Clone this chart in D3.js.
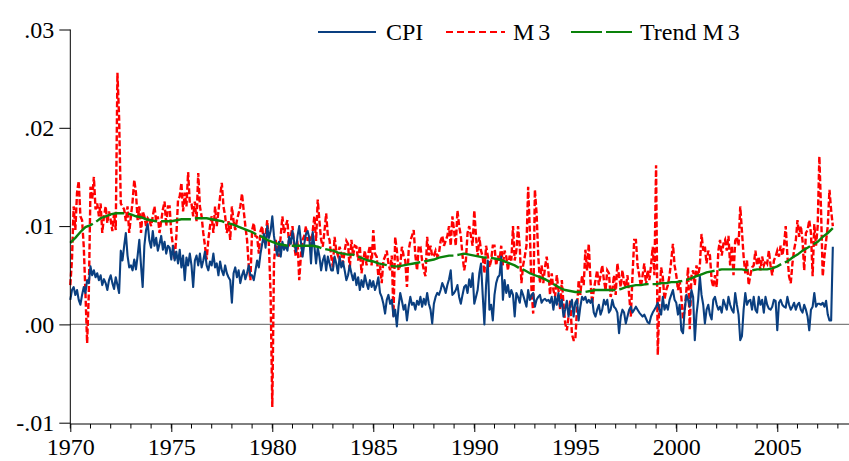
<!DOCTYPE html>
<html>
<head>
<meta charset="utf-8">
<script src="https://cdn.jsdelivr.net/npm/d3@7"></script>
<style>
  html, body { margin: 0; padding: 0; background: #ffffff; }
  svg { display: block; }
  text { font-family: "Liberation Serif", "Times New Roman", serif; fill: #000; }
</style>
</head>
<body>
<svg id="chart" width="849" height="461"></svg>
<script>
// ---------- DATA (monthly, starting 1970M01) ----------
const startYear = 1970;

const cpi = [
.0025,.0035,.0038,.0030,.0035,.0025,.0020,.0030,.0038,.0032,.0045,.0042,
.0059,.0050,.0055,.0048,.0052,.0045,.0050,.0040,.0046,.0042,.0035,.0045,
.0050,.0042,.0036,.0048,.0040,.0032,.0075,.0065,.0080,.0093,.0070,.0058,
.0060,.0055,.0066,.0056,.0070,.0086,.0060,.0038,.0080,.0096,.0102,.0085,
.0078,.0095,.0080,.0088,.0075,.0082,.0090,.0076,.0084,.0072,.0080,.0078,
.0066,.0080,.0065,.0074,.0062,.0076,.0058,.0070,.0045,.0068,.0060,.0072,
.0060,.0038,.0065,.0070,.0060,.0072,.0058,.0065,.0074,.0060,.0055,.0064,
.0060,.0072,.0058,.0062,.0050,.0064,.0055,.0050,.0060,.0052,.0048,.0045,
.0022,.0052,.0058,.0048,.0055,.0042,.0050,.0055,.0046,.0052,.0060,.0050,
.0050,.0045,.0055,.0065,.0058,.0072,.0082,.0092,.0078,.0100,.0088,.0095,
.0110,.0090,.0078,.0070,.0084,.0069,.0084,.0076,.0080,.0075,.0089,.0082,
.0095,.0084,.0074,.0090,.0100,.0084,.0069,.0082,.0092,.0095,.0088,.0062,
.0094,.0080,.0062,.0078,.0069,.0055,.0065,.0070,.0055,.0069,.0062,.0055,
.0055,.0069,.0062,.0052,.0069,.0058,.0064,.0055,.0045,.0050,.0060,.0052,
.0045,.0052,.0040,.0048,.0035,.0045,.0038,.0050,.0042,.0036,.0045,.0038,
.0044,.0035,.0040,.0048,.0032,.0028,.0021,.0011,.0025,.0030,.0021,.0025,
.0008,.0015,-.0002,.0018,.0032,.0024,.0015,.0020,.0004,.0018,.0028,.0020,
.0022,.0015,.0024,.0020,.0028,.0018,.0026,.0020,.0032,.0021,.0015,.0001,
.0021,.0028,.0032,.0030,.0035,.0042,.0038,.0032,.0040,.0046,.0055,.0030,
.0032,.0035,.0040,.0028,.0021,.0030,.0038,.0040,.0032,.0046,.0038,.0052,
.0021,.0028,.0035,.0052,.0062,.0030,.0000,.0040,.0065,.0015,.0020,.0004,
.0030,.0042,.0048,.0050,.0069,.0025,.0045,.0032,.0040,.0028,.0035,.0030,
.0008,.0032,.0028,.0022,.0035,.0030,.0024,.0018,.0035,.0025,.0030,.0032,
.0018,.0025,.0028,.0030,.0022,.0025,.0026,.0024,.0025,.0022,.0028,.0015,
.0028,.0020,.0032,.0018,.0025,.0008,.0015,.0024,.0008,.0020,.0025,.0008,
.0022,.0025,.0004,.0018,.0028,.0025,.0028,.0022,.0025,.0022,.0026,.0012,
.0008,.0015,.0020,.0010,.0015,.0025,.0020,.0025,.0012,.0015,.0025,.0018,
.0016,.0012,-.0009,.0008,.0015,.0012,.0001,.0008,.0015,.0018,.0012,.0015,
.0018,.0015,.0012,.0010,.0008,.0010,.0006,.0002,.0001,.0008,.0012,.0015,
.0018,.0022,.0015,.0010,.0028,.0015,.0020,.0015,.0025,.0030,.0035,.0025,
.0022,.0010,.0020,-.0006,-.0009,.0015,.0030,.0025,.0018,.0035,.0028,-.0016,
.0010,.0025,.0049,.0030,.0020,.0001,.0015,.0020,.0010,.0005,.0025,.0028,
.0020,.0015,.0018,.0012,.0025,.0020,.0015,.0028,.0020,.0015,.0012,.0032,
.0020,.0010,-.0016,-.0012,.0015,.0032,.0020,.0024,.0025,.0015,.0028,.0015,
.0012,.0028,.0020,.0025,.0012,.0028,.0020,.0016,.0015,.0018,.0025,.0024,
-.0006,.0022,.0025,.0020,.0018,.0017,.0028,.0020,.0015,.0018,.0022,.0015,
.0020,.0022,.0015,.0012,.0020,.0015,.0008,-.0006,.0015,.0018,.0032,.0018,
.0021,.0021,.0020,.0022,.0018,.0024,.0010,.0004,.0004,.0079
];

const m3 = [
.0040,.0066,.0120,.0096,.0134,.0146,.0110,.0106,.0079,.0032,-.0019,.0032,
.0140,.0127,.0150,.0117,.0123,.0110,.0123,.0093,.0110,.0120,.0103,.0115,
.0106,.0095,.0113,.0096,.0256,.0210,.0123,.0120,.0117,.0105,.0120,.0093,
.0110,.0125,.0147,.0134,.0106,.0120,.0093,.0115,.0110,.0100,.0108,.0106,
.0100,.0110,.0120,.0105,.0110,.0093,.0105,.0117,.0125,.0100,.0120,.0120,
.0093,.0080,.0066,.0090,.0127,.0130,.0144,.0115,.0134,.0120,.0155,.0123,
.0123,.0110,.0125,.0105,.0154,.0120,.0110,.0093,.0080,.0066,.0086,.0100,
.0110,.0093,.0120,.0100,.0115,.0130,.0144,.0120,.0110,.0093,.0105,.0086,
.0120,.0105,.0096,.0106,.0113,.0120,.0133,.0116,.0100,.0086,.0060,.0045,
.0096,.0103,.0090,.0089,.0072,.0095,.0100,.0082,.0090,.0106,.0080,.0030,
-.0084,.0062,.0086,.0075,.0069,.0090,.0110,.0093,.0100,.0106,.0079,.0090,
.0100,.0080,.0069,.0085,.0045,.0070,.0086,.0090,.0100,.0085,.0090,.0080,
.0095,.0110,.0085,.0127,.0105,.0086,.0079,.0095,.0113,.0090,.0086,.0069,
.0058,.0089,.0075,.0070,.0079,.0072,.0062,.0075,.0085,.0082,.0055,.0086,
.0070,.0080,.0079,.0065,.0080,.0052,.0065,.0075,.0060,.0072,.0080,.0060,
.0096,.0072,.0069,.0049,.0060,.0042,.0065,.0069,.0075,.0062,.0055,.0070,
.0008,.0089,.0075,.0055,.0060,.0079,.0070,.0065,.0038,.0075,.0085,.0090,
.0096,.0070,.0055,.0080,.0079,.0065,.0055,.0049,.0089,.0070,.0080,.0069,
.0070,.0075,.0069,.0072,.0085,.0090,.0080,.0085,.0090,.0100,.0080,.0110,
.0095,.0080,.0116,.0100,.0090,.0070,.0055,.0065,.0093,.0100,.0090,.0080,
.0116,.0090,.0069,.0089,.0075,.0069,.0052,.0080,.0070,.0058,.0065,.0080,
.0080,.0060,.0070,.0065,.0080,.0060,.0075,.0069,.0055,.0070,.0065,.0100,
.0065,.0075,.0100,.0079,.0042,.0060,.0069,.0080,.0140,.0095,.0035,.0011,
.0137,.0113,.0070,.0042,.0060,.0042,.0058,.0069,.0055,.0030,.0052,.0035,
.0028,.0050,.0035,.0015,.0045,.0021,.0001,-.0006,.0008,.0025,-.0010,-.0016,
-.0016,.0015,.0045,.0030,.0050,.0040,.0076,.0055,.0082,.0045,.0021,.0035,
.0045,.0055,.0040,.0050,.0060,.0045,.0035,.0055,.0052,.0028,.0035,.0050,
.0030,.0062,.0049,.0038,.0055,.0042,.0038,.0050,.0030,.0008,.0050,.0086,
.0086,.0060,.0050,.0038,.0050,.0062,.0040,.0055,.0045,.0060,.0079,.0050,
.0162,-.0031,.0028,.0058,.0048,.0025,.0035,.0040,.0050,.0065,.0082,.0060,
.0050,.0035,.0045,.0028,.0005,.0015,.0035,.0058,-.0005,.0049,.0055,.0040,
.0060,.0049,.0060,.0092,.0075,.0079,.0062,.0075,.0070,.0045,.0038,.0050,
.0038,.0075,.0086,.0070,.0082,.0086,.0075,.0090,.0060,.0080,.0050,.0085,
.0089,.0080,.0120,.0095,.0069,.0052,.0065,.0040,.0050,.0058,.0060,.0075,
.0060,.0069,.0055,.0069,.0060,.0065,.0062,.0075,.0060,.0050,.0065,.0069,
.0075,.0069,.0080,.0070,.0080,.0100,.0070,.0049,.0042,.0062,.0076,.0085,
.0106,.0089,.0100,.0085,.0055,.0093,.0096,.0106,.0093,.0049,.0102,.0080,
.0100,.0171,.0116,.0049,.0069,.0085,.0100,.0137,.0116,.0100
];

// quarterly trend of M3, starting 1970Q1
const trendM3 = [
.0083,.0088,.0094,.0099, .0101,.0104,.0108,.0110, .0112,.0113,.0113,.0113,
.0112,.0110,.0109,.0107, .0106,.0105,.0105,.0105, .0105,.0106,.0107,.0107,
.0107,.0108,.0108,.0108, .0107,.0106,.0105,.0103, .0102,.0100,.0098,.0096,
.0094,.0091,.0089,.0086, .0084,.0082,.0081,.0080, .0080,.0080,.0080,.0080,
.0080,.0079,.0077,.0076, .0075,.0073,.0072,.0071, .0071,.0069,.0067,.0065,
.0064,.0062,.0061,.0060, .0059,.0059,.0060,.0061, .0062,.0063,.0064,.0065,
.0066,.0068,.0069,.0070, .0070,.0071,.0072,.0071, .0070,.0069,.0068,.0068,
.0067,.0066,.0064,.0062, .0060,.0057,.0055,.0052, .0050,.0048,.0046,.0043,
.0040,.0037,.0035,.0034, .0033,.0033,.0033,.0034, .0035,.0035,.0035,.0035,
.0035,.0036,.0038,.0039, .0040,.0040,.0041,.0041, .0041,.0042,.0042,.0043,
.0043,.0044,.0045,.0047, .0049,.0051,.0053,.0054, .0055,.0056,.0056,.0056,
.0056,.0056,.0055,.0055, .0056,.0056,.0056,.0057, .0059,.0062,.0064,.0068,
.0071,.0075,.0078,.0081, .0084,.0089,.0093,.0098
];

const yTicks = [0.03, 0.02, 0.01, 0.00, -0.01];
const yTickLabels = [".03", ".02", ".01", ".00", "-.01"];
const xMajorTicks = [1970, 1975, 1980, 1985, 1990, 1995, 2000, 2005];
const xMajorLabels = ["1970", "1975", "1980", "1985", "1990", "1995", "2000", "2005"];
const xMinorTicks = d3.range(1970, 2009);

const seriesNames = ["CPI", "M3", "Trend M3"];

// ---------- DRAWING ----------
const svg = d3.select("#chart");
const x = d3.scaleLinear().domain([1970, 2008.6]).range([70.3, 850]);
const y = d3.scaleLinear().domain([-0.01, 0.03]).range([422.7, 29.5]);
const axisY = 424;

const monthly = arr => arr.map((v, i) => ({ t: startYear + i / 12, v }));
const quarterly = arr => arr.map((v, i) => ({ t: startYear + i / 4, v }));

// zero line
svg.append("line")
  .attr("x1", x(1970)).attr("x2", 849)
  .attr("y1", y(0)).attr("y2", y(0))
  .attr("stroke", "#7f7f7f").attr("stroke-width", 1.2);

const line = d3.line().x(d => x(d.t)).y(d => y(d.v));

svg.append("path").datum(monthly(m3))
  .attr("d", line).attr("fill", "none")
  .attr("stroke", "#ff0000").attr("stroke-width", 2.4)
  .attr("stroke-dasharray", "6,2.5");

svg.append("path").datum(monthly(cpi))
  .attr("d", line).attr("fill", "none")
  .attr("stroke", "#0a3f80").attr("stroke-width", 2.1)
  .attr("stroke-linejoin", "round");

svg.append("path").datum(quarterly(trendM3))
  .attr("d", line).attr("fill", "none")
  .attr("stroke", "#0a820a").attr("stroke-width", 2.4)
  .attr("stroke-dasharray", "30,4");

// y axis
const yAxis = d3.axisLeft(y).tickValues(yTicks)
  .tickFormat((d, i) => yTickLabels[i]).tickSize(11).tickPadding(5);
const gy = svg.append("g").attr("transform", "translate(70.3,0)").call(yAxis);
gy.select(".domain").remove();
gy.append("line").attr("x1", 0).attr("x2", 0).attr("y1", y(0.03)).attr("y2", axisY)
  .attr("stroke", "#000");
gy.selectAll(".tick line").attr("stroke", "#000");
gy.selectAll(".tick text").style("font-size", "24px")
  .style("font-family", '"Liberation Serif", serif').attr("fill", "#000");

// x axis (minor ticks + major ticks with labels)
svg.append("line").attr("x1", 70.3).attr("x2", 849).attr("y1", axisY).attr("y2", axisY)
  .attr("stroke", "#000");
svg.append("g").selectAll("line").data(xMinorTicks).join("line")
  .attr("x1", d => x(d)).attr("x2", d => x(d))
  .attr("y1", axisY).attr("y2", axisY + 4.5).attr("stroke", "#000");
const xAxis = d3.axisBottom(x).tickValues(xMajorTicks)
  .tickFormat((d, i) => xMajorLabels[i]).tickSize(8).tickPadding(6);
const gx = svg.append("g").attr("transform", `translate(0,${axisY})`).call(xAxis);
gx.select(".domain").remove();
gx.selectAll(".tick line").attr("stroke", "#000");
gx.selectAll(".tick text").style("font-size", "24px")
  .style("font-family", '"Liberation Serif", serif').attr("fill", "#000");

// legend
const legend = svg.append("g");
const legendItems = [
  { name: seriesNames[0], color: "#0a3f80", dash: null, x1: 318, x2: 376, tx: 386 },
  { name: seriesNames[1], color: "#ff0000", dash: "7,4", x1: 446, x2: 505, tx: 513 },
  { name: seriesNames[2], color: "#0a820a", dash: "31,4", x1: 571, x2: 632, tx: 640 }
];
legendItems.forEach(it => {
  legend.append("line").attr("x1", it.x1).attr("x2", it.x2).attr("y1", 32).attr("y2", 32)
    .attr("stroke", it.color).attr("stroke-width", 2)
    .attr("stroke-dasharray", it.dash);
  const t = legend.append("text").attr("x", it.tx).attr("y", 40).style("font-size", "24px");
  if (it.name.endsWith("M3")) {
    t.append("tspan").text(it.name.slice(0, -1));
    t.append("tspan").attr("dx", 4).text("3");
  } else {
    t.text(it.name);
  }
});
</script>
</body>
</html>
